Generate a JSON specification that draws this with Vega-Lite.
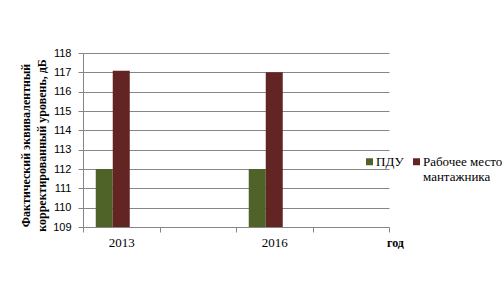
{
  "$schema": "https://vega.github.io/schema/vega-lite/v6.json",
  "width": 306,
  "height": 174,
  "autosize": "none",
  "padding": {"left": 83, "top": 53, "right": 115, "bottom": 60},
  "background": "white",
  "config": {
    "view": {"stroke": null},
    "bar": {"stroke": null}
  },
  "data": {
    "values": [
      {"year": "2013", "series": "ПДУ", "value": 112},
      {"year": "2013", "series": "Рабочее место мантажника", "value": 117.08},
      {"year": "2016", "series": "ПДУ", "value": 112},
      {"year": "2016", "series": "Рабочее место мантажника", "value": 117}
    ]
  },
  "mark": {"type": "bar"},
  "encoding": {
    "x": {
      "field": "year",
      "type": "nominal",
      "sort": null,
      "scale": {"domain": ["2013", " ", "2016", "  "], "paddingInner": 0, "paddingOuter": 0},
      "axis": {
        "title": "год",
        "titleFont": "Liberation Serif",
        "titleFontWeight": "bold",
        "titleFontSize": 12,
        "titleColor": "black",
        "titleX": 312,
        "titleY": 19,
        "titleAlign": "center",
        "titleBaseline": "alphabetic",
        "labelAngle": 0,
        "labelFont": "Liberation Serif",
        "labelFontSize": 13,
        "labelColor": "black",
        "labelBaseline": "alphabetic",
        "labelPadding": 14,
        "tickBand": "extent",
        "tickSize": 5,
        "tickColor": "#868686",
        "domainColor": "#868686",
        "grid": false
      }
    },
    "xOffset": {
      "field": "series",
      "type": "nominal",
      "scale": {"domain": ["ПДУ", "Рабочее место мантажника", "_"], "paddingInner": 0, "paddingOuter": 0.75}
    },
    "y": {
      "field": "value",
      "type": "quantitative",
      "scale": {"domain": [109, 118], "nice": false, "zero": false},
      "axis": {
        "values": [109, 110, 111, 112, 113, 114, 115, 116, 117, 118],
        "title": ["Фактический эквивалентный", "корректированный уровень, дБ"],
        "titleFont": "Liberation Serif",
        "titleFontWeight": "bold",
        "titleFontSize": 12,
        "titleColor": "black",
        "titleLineHeight": 16,
        "titleX": -51,
        "titleY": 92,
        "titleAlign": "center",
        "titleBaseline": "bottom",
        "titleAngle": -90,
        "labelFont": "Liberation Sans",
        "labelFontSize": 11,
        "labelColor": "black",
        "labelPadding": 7,
        "tickSize": 5,
        "tickColor": "#868686",
        "domainColor": "#868686",
        "grid": true,
        "gridColor": "#868686",
        "gridOpacity": 1
      }
    },
    "y2": {"datum": 109},
    "color": {
      "field": "series",
      "type": "nominal",
      "scale": {"domain": ["ПДУ", "Рабочее место мантажника"], "range": ["#4F6228", "#632523"]},
      "legend": {
        "title": null,
        "orient": "none",
        "legendX": 280,
        "legendY": 102,
        "direction": "horizontal",
        "symbolType": "square",
        "symbolSize": 49,
        "symbolStrokeWidth": 0,
        "labelFont": "Liberation Serif",
        "labelFontSize": 13,
        "labelColor": "black",
        "labelOffset": 0,
        "columnPadding": 6,
        "labelLimit": 200,
        "labelBaseline": "middle",
        "labelExpr": "datum.label == 'ПДУ' ? ['ПДУ', '\u00a0'] : ['Рабочее место', 'мантажника']",
        "labelLineHeight": 17
      }
    }
  }
}
